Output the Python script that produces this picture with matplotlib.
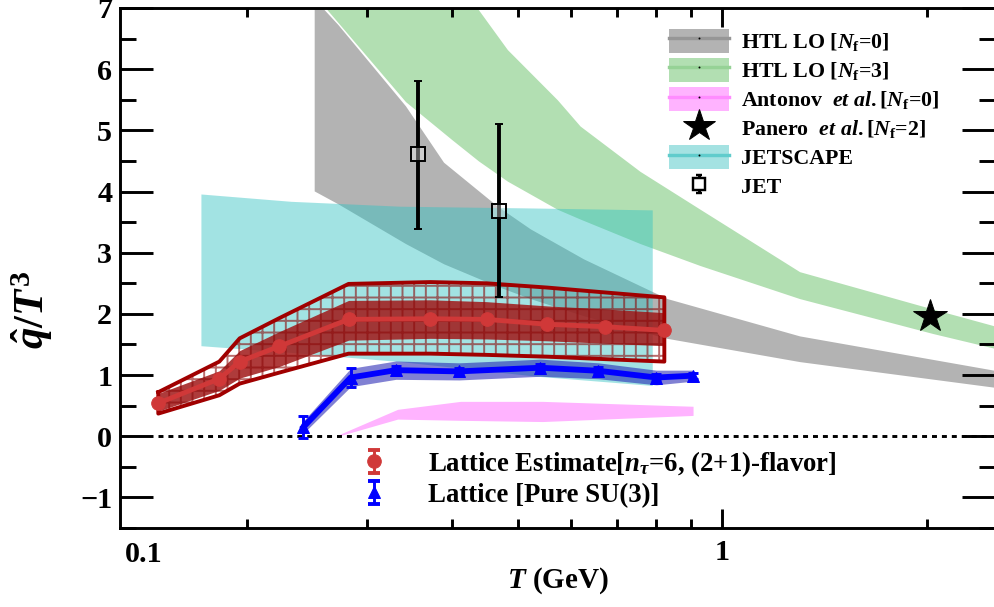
import numpy as np
import matplotlib
matplotlib.use('Agg')
import matplotlib.pyplot as plt
from matplotlib.patches import Patch
from matplotlib.lines import Line2D
from matplotlib.legend_handler import HandlerErrorbar
from matplotlib.ticker import FixedLocator, FixedFormatter, NullFormatter, MultipleLocator

plt.rcParams['font.family'] = ['Liberation Serif', 'DejaVu Serif']
plt.rcParams['font.weight'] = 'bold'
plt.rcParams['mathtext.fontset'] = 'custom'
plt.rcParams['mathtext.rm'] = 'Liberation Serif:bold'
plt.rcParams['mathtext.it'] = 'Liberation Serif:italic:bold'
plt.rcParams['mathtext.bf'] = 'Liberation Serif:bold'
plt.rcParams['hatch.linewidth'] = 2.0

# HTL LO, N_f = 0 (grey band)
htl0_T = [0.251, 0.272, 0.342, 0.389, 0.467, 0.522, 0.625, 0.83, 1.30, 2.6]
htl0_hi = [7.15, 6.73, 5.40, 4.48, 3.76, 3.39, 2.90, 2.25, 1.64, 1.05]
htl0_lo = [4.01, 3.80, 3.15, 2.82, 2.45, 2.25, 1.97, 1.60, 1.22, 0.78]

# HTL LO, N_f = 3 (green band)
htl3_T = [0.26, 0.342, 0.40, 0.438, 0.483, 0.572, 0.618, 0.757, 0.928, 1.30, 2.04, 2.6]
htl3_hi = [9.5, 8.3, 7.5, 6.97, 6.32, 5.50, 5.07, 4.33, 3.71, 2.69, 2.08, 1.76]
htl3_lo = [7.02, 5.47, 4.85, 4.50, 4.17, 3.71, 3.55, 3.15, 2.79, 2.25, 1.68, 1.40]

# Antonov et al. (pink band)
ant_T = [0.272, 0.333, 0.412, 0.544, 0.906]
ant_hi = [0.02, 0.44, 0.57, 0.57, 0.49]
ant_lo = [0.00, 0.28, 0.26, 0.24, 0.34]

# JETSCAPE (cyan band)
jsc_T = [0.171, 0.232, 0.336, 0.535, 0.789]
jsc_hi = [3.96, 3.84, 3.76, 3.73, 3.70]
jsc_lo = [1.48, 1.37, 1.22, 0.98, 0.83]

# JET points
jet_T = [0.357, 0.469]
jet_q = [4.61, 3.68]
jet_err_lo = [1.22, 1.40]
jet_err_hi = [1.19, 1.43]

# Panero et al.
pan_T = [2.02]
pan_q = [1.97]

# Lattice estimate, (2+1)-flavor
lat_T = [0.148, 0.182, 0.195, 0.223, 0.282, 0.372, 0.450, 0.553, 0.673, 0.822]
lat_q = [0.54, 0.94, 1.22, 1.47, 1.91, 1.92, 1.91, 1.83, 1.79, 1.73]
lat_in_hi = [0.70, 1.07, 1.40, 1.71, 2.22, 2.23, 2.20, 2.13, 2.08, 2.02]
lat_in_lo = [0.41, 0.75, 0.95, 1.14, 1.57, 1.60, 1.59, 1.56, 1.52, 1.48]
lat_out_hi = [0.72, 1.22, 1.60, 1.93, 2.49, 2.52, 2.50, 2.43, 2.35, 2.27]
lat_out_lo = [0.37, 0.67, 0.86, 1.04, 1.35, 1.35, 1.33, 1.30, 1.26, 1.22]

# Lattice, pure SU(3)
su3_T = [0.242, 0.284, 0.331, 0.410, 0.540, 0.657, 0.800, 0.906]
su3_q = [0.15, 0.96, 1.08, 1.06, 1.12, 1.07, 0.96, 0.99]
su3_err = [0.18, 0.15, 0.06, 0.06, 0.06, 0.06, 0.06, 0.05]
su3_band = [0.10, 0.15, 0.15, 0.14, 0.14, 0.13, 0.12, 0.09]

gray = '#b3b3b3'
green = '#b2dfb2'
pink = '#ffb3ff'
cyan = (50/255, 195/255, 195/255)

fig = plt.figure(figsize=(994/70, 607/70), dpi=70)
ax = fig.add_axes([120/994, 79/607, 875/994, 520/607])
ax.set_xscale('log')
ax.set_xlim(0.13, 2.52)
ax.set_ylim(-1.5, 7)

ax.fill_between(htl0_T, htl0_lo, htl0_hi, color=gray, lw=0, zorder=1)
ax.fill_between(htl3_T, htl3_lo, htl3_hi, color=green, lw=0, zorder=1)
ax.fill_between(jsc_T, jsc_lo, jsc_hi, color=cyan, alpha=0.45, lw=0, zorder=2)
ax.fill_between(ant_T, ant_lo, ant_hi, color=pink, lw=0, zorder=2)

ax.hlines(0, lat_T[0], 2.52, colors='k', linestyles=(0, (1.7, 1.7)), lw=3, zorder=2)

# lattice (2+1)-flavor bands
lat_T = np.array(lat_T)
ax.fill_between(lat_T, lat_in_lo, lat_in_hi, color='#a01818', alpha=0.85, lw=0, zorder=3)
ax.fill_between(lat_T, lat_out_lo, lat_out_hi, facecolor='none',
                edgecolor=(0.55, 0.04, 0.04, 0.6), hatch='+', lw=0, zorder=3.2)
box_T = np.concatenate([lat_T, lat_T[::-1], lat_T[:1]])
box_q = np.concatenate([lat_out_hi, lat_out_lo[::-1], lat_out_hi[:1]])
ax.plot(box_T, box_q, color='#a00000', lw=4, zorder=3.3)
ax.plot(lat_T, lat_q, color='#d03838', lw=5, marker='o', ms=14, zorder=3.5)

# pure SU(3)
su3_lo = np.array(su3_q) - np.array(su3_band)
su3_hi = np.array(su3_q) + np.array(su3_band)
ax.fill_between(su3_T, su3_lo, su3_hi, color='#1a1ab0', alpha=0.55, lw=0, zorder=4)
ax.errorbar(su3_T, su3_q, yerr=su3_err, fmt='^-', color='#0000ff', lw=6, ms=13,
            capsize=5, capthick=3, elinewidth=3, zorder=4.5)

# JET
ax.errorbar(jet_T, jet_q, yerr=[jet_err_lo, jet_err_hi], fmt='s', color='k',
            mfc=(1, 1, 1, 0.35), mec='k', mew=2, ms=14, elinewidth=4,
            capsize=4, capthick=4, zorder=6)

# Panero
ax.plot(pan_T, pan_q, ls='none', marker='*', ms=36, color='k', zorder=6)

# axes styling
for s in ax.spines.values():
    s.set_linewidth(3)
ax.xaxis.set_major_locator(FixedLocator([1]))
ax.xaxis.set_major_formatter(FixedFormatter(['1']))
ax.xaxis.set_minor_locator(FixedLocator([0.2, 0.3, 0.4, 0.5, 0.6, 0.7, 0.8, 0.9, 2]))
ax.xaxis.set_minor_formatter(NullFormatter())
ax.yaxis.set_major_locator(MultipleLocator(1))
ax.yaxis.set_minor_locator(MultipleLocator(0.5))
ax.tick_params(axis='x', which='major', direction='in', length=20, width=3,
               top=True, labelsize=31, pad=11)
ax.tick_params(axis='x', which='minor', direction='in', length=9, width=3, top=True)
ax.tick_params(axis='y', which='major', direction='in', length=34, width=3,
               right=True, labelsize=31, pad=8)
ax.tick_params(axis='y', which='minor', direction='in', length=16.5, width=3, right=True)

ax.text(0.141, -0.025, '0.1', transform=ax.get_xaxis_transform(), ha='center',
        va='top', fontsize=31, fontweight='bold')

ax.set_xlabel(r'$T$ (GeV)', fontsize=30, fontweight='bold')
ax.xaxis.set_label_coords(0.5, -0.072)
ax.set_ylabel(r'$\hat{q}/T^3$', fontsize=44)
ax.yaxis.set_label_coords(-0.074, 0.42)

# top-right legend
def band_handle(fc, lc, alpha=1.0):
    return (Patch(facecolor=fc, alpha=alpha, lw=0),
            Line2D([], [], color=lc, lw=3.5, marker='.', ms=2, mfc='k', mec='k'))

jet_handle = ax.errorbar([np.nan], [np.nan], yerr=[0.1], fmt='s', color='k',
                         mfc='white', mec='k', mew=2.5, ms=12, elinewidth=3,
                         capsize=3, capthick=4)
top_handles = [band_handle(gray, '#969696'),
               band_handle(green, '#96d296'),
               band_handle(pink, '#ff8cff'),
               Line2D([], [], ls='none', marker='*', ms=34, color='k'),
               band_handle((164/255, 226/255, 226/255), '#60cccc'),
               jet_handle]
top_labels = [r'HTL LO [$N_{\rm f}$=0]', r'HTL LO [$N_{\rm f}$=3]',
              r'Antonov  $et\ al.$[$N_{\rm f}$=0]', r'Panero  $et\ al.$[$N_{\rm f}$=2]',
              'JETSCAPE', 'JET']
leg1 = ax.legend(top_handles, top_labels, loc='upper left',
                 bbox_to_anchor=(0.627, 0.96), frameon=False, fontsize=22.5,
                 handlelength=2.75, handleheight=1.3, handletextpad=0.55,
                 labelspacing=0.22, borderpad=0, borderaxespad=0,
                 handler_map={jet_handle: HandlerErrorbar(xerr_size=0.42)})
ax.add_artist(leg1)

# bottom legend
lat_handle = ax.errorbar([np.nan], [np.nan], yerr=[0.1], fmt='o', color='#d03838',
                         ms=14, elinewidth=3, capsize=6, capthick=4)
su3_handle = ax.errorbar([np.nan], [np.nan], yerr=[0.1], fmt='^', color='#0000ff',
                         ms=13, elinewidth=3, capsize=6, capthick=4)
ax.legend([lat_handle, su3_handle],
          [r'Lattice Estimate[$n_\tau$=6, (2+1)-flavor]', 'Lattice [Pure SU(3)]'],
          loc='upper left', bbox_to_anchor=(0.276, 0.152), frameon=False,
          fontsize=27.5, handlelength=0.9, handletextpad=1.6, labelspacing=0.15,
          borderpad=0, borderaxespad=0,
          handler_map={lat_handle: HandlerErrorbar(xerr_size=0.42),
                       su3_handle: HandlerErrorbar(xerr_size=0.42)})

fig.savefig('out.png', dpi=70)
